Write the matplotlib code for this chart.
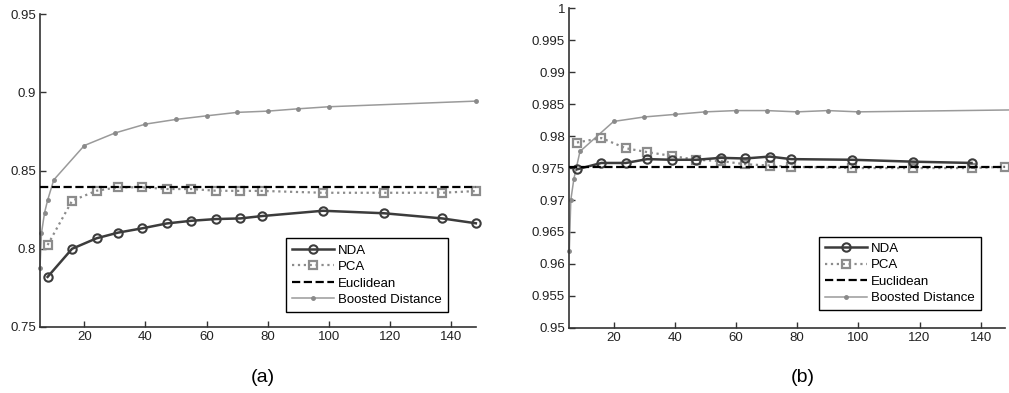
import numpy as np
import matplotlib
matplotlib.use("Agg")
import matplotlib.pyplot as plt

plt.rcParams['font.family'] = ['Liberation Sans', 'DejaVu Sans']

# dimension values shared by NDA / PCA
dims = [8, 16, 24, 31, 39, 47, 55, 63, 71, 78, 98, 118, 137, 148]

# panel (a)
nda_a = [0.782, 0.800, 0.8067, 0.8103, 0.8131, 0.8162, 0.8179, 0.819, 0.8194,
         0.8209, 0.8243, 0.8227, 0.8194, 0.8163]
pca_a = [0.8024, 0.8307, 0.8371, 0.8393, 0.8393, 0.8382, 0.8382, 0.8371, 0.837,
         0.837, 0.8358, 0.8358, 0.8358, 0.8369]
eucl_a = 0.8393
bd_dims_a = [5.5, 6, 7, 8, 10, 20, 30, 40, 50, 60, 70, 80, 90, 100, 148]
bd_a = [0.788, 0.810, 0.823, 0.831, 0.844, 0.866, 0.874, 0.8797, 0.8827, 0.885,
        0.8872, 0.888, 0.8895, 0.8908, 0.8944]

# panel (b)
nda_b = [0.9748, 0.9758, 0.9758, 0.9764, 0.9763, 0.9763, 0.9766, 0.9765, 0.9768,
         0.9764, 0.9763, 0.9760, 0.9758]
pca_b = [0.9790, 0.9797, 0.9781, 0.9775, 0.9769, 0.9763, 0.9761, 0.9756, 0.9754,
         0.9752, 0.9750, 0.9750, 0.9750, 0.9752]
eucl_b = 0.9752
bd_dims_b = [5.5, 6, 7, 9, 20, 30, 40, 50, 60, 70, 80, 90, 100, 150]
bd_b = [0.962, 0.970, 0.9733, 0.9776, 0.9823, 0.9830, 0.9834, 0.9838, 0.9840,
        0.9840, 0.9838, 0.9840, 0.9838, 0.9841]

labels = ['NDA', 'PCA', 'Euclidean', 'Boosted Distance']

fig = plt.figure(figsize=(10.09, 3.93), dpi=100)
ax_a = fig.add_axes([0.0396, 0.168, 0.432, 0.796])
ax_b = fig.add_axes([0.5642, 0.166, 0.432, 0.8127])


def draw(ax, nda_x, nda, pca, eucl, bdx, bd, ylim, yticks, yticklabels, leg_anchor):
    ax.plot(nda_x, nda, '-', color='#3c3c3c', lw=1.8, marker='o', ms=6,
            mfc='none', mec='#3c3c3c', mew=1.5, label=labels[0], clip_on=False, zorder=4)
    ax.plot(dims, pca, ':', color='#8c8c8c', lw=1.6, marker='s', ms=6,
            mfc='none', mec='#8c8c8c', mew=1.6, label=labels[1], clip_on=False, zorder=3)
    ax.plot([5.5, 148], [eucl, eucl], '--', color='black', lw=1.6,
            label=labels[2], zorder=5)
    ax.plot(bdx, bd, '-', color='#9a9a9a', lw=1.1, marker='.', ms=5,
            mec='#8a8a8a', mfc='#8a8a8a', label=labels[3], clip_on=False, zorder=2)
    ax.set_xlim(5.5, 148)
    ax.set_ylim(*ylim)
    ax.set_xticks(range(20, 141, 20))
    ax.set_yticks(yticks)
    ax.set_yticklabels(yticklabels)
    for s in ['top', 'right']:
        ax.spines[s].set_visible(False)
    for s in ['left', 'bottom']:
        ax.spines[s].set_color('#333333')
        ax.spines[s].set_linewidth(1.2)
    ax.tick_params(direction='in', length=4, width=1, colors='#333333',
                   labelsize=9.5, labelcolor='#222222', pad=3)
    leg = ax.legend(loc='upper left', bbox_to_anchor=leg_anchor, borderaxespad=0,
                    fontsize=9.5, handlelength=3.2, handletextpad=0.3, labelspacing=0.32,
                    fancybox=False, framealpha=1, edgecolor='black', borderpad=0.45)
    leg.get_frame().set_linewidth(1.0)


draw(ax_a, dims, nda_a, pca_a, eucl_a, bd_dims_a, bd_a, (0.75, 0.95),
     [0.75, 0.8, 0.85, 0.9, 0.95], ['0.75', '0.8', '0.85', '0.9', '0.95'],
     (0.564, 0.283))
yt_b = np.round(np.arange(0.95, 1.0001, 0.005), 3)
draw(ax_b, dims[:13], nda_b, pca_b, eucl_b, bd_dims_b, bd_b, (0.95, 1.0),
     yt_b, ['%g' % v for v in yt_b], (0.573, 0.285))

fig.text(263 / 1009, 1 - 378 / 393, '(a)', ha='center', va='center', fontsize=14)
fig.text(803 / 1009, 1 - 378 / 393, '(b)', ha='center', va='center', fontsize=14)

fig.savefig('out.png', dpi=100)
